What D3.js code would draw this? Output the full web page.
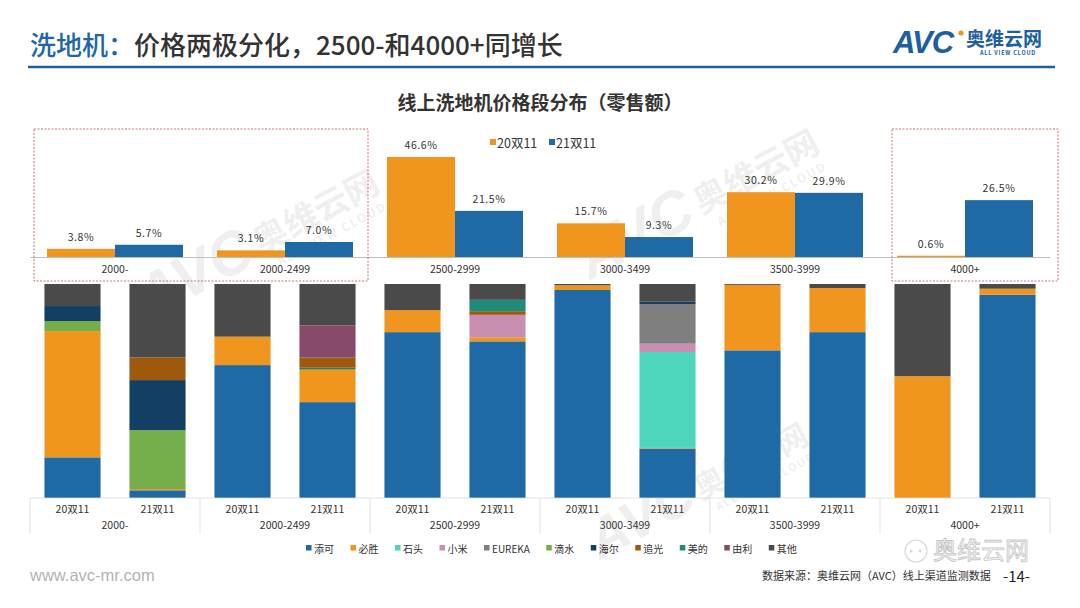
<!DOCTYPE html>
<html><head><meta charset="utf-8">
<script src="https://cdn.jsdelivr.net/npm/d3@7/dist/d3.min.js"></script>
<style>
html,body{margin:0;padding:0;background:#fff;}
svg{display:block;font-family:"Noto Sans CJK SC","Noto Sans",sans-serif;}
</style></head>
<body>
<svg id="c" width="1080" height="608"></svg>
<script>
// ---------- data ----------
const categories = ["2000-", "2000-2499", "2500-2999", "3000-3499", "3500-3999", "4000+"];
const seriesNames = ["20双11", "21双11"];
const share20 = [3.8, 3.1, 46.6, 15.7, 30.2, 0.6];
const share21 = [5.7, 7.0, 21.5, 9.3, 29.9, 26.5];
const brands = ["添可", "必胜", "石头", "小米", "EUREKA", "滴水", "海尔", "追光", "美的", "由利", "其他"];
// brand share per bar: order = category x [20双11, 21双11]
const tianke  = [19.0, 3.6, 62.1, 44.8, 77.5, 73.2, 97.2, 23.1, 69.0, 77.5, 0, 95.0];
const bisheng = [59.0, 0.6, 13.3, 15.0, 10.3, 1.9, 2.2, 0.3, 30.6, 20.6, 56.9, 2.8];
const shitou  = [0, 0, 0, 0, 0, 0, 0, 44.8, 0, 0, 0, 0];
const xiaomi  = [0, 0, 0, 0, 0, 10.5, 0, 3.9, 0, 0, 0, 0];
const eureka  = [0, 0, 0, 0, 0, 0, 0, 18.4, 0, 0, 0, 0];
const dishui  = [4.7, 27.5, 0, 0.6, 0, 0, 0, 0, 0, 0, 0, 0];
const haier   = [7.0, 23.4, 0, 0.5, 0, 0, 0, 1.2, 0, 0, 0, 0];
const zhuiguang = [0, 10.6, 0, 4.7, 0, 1.7, 0, 0, 0, 0, 0, 0];
const midea   = [0, 0, 0, 0, 0, 5.3, 0, 0, 0, 0, 0, 0];
const youli   = [0, 0, 0, 15.0, 0, 0, 0, 0, 0, 0, 0, 0];
const others  = [10.3, 34.3, 24.6, 19.4, 12.2, 7.4, 0.6, 8.3, 0.4, 1.9, 43.1, 2.2];
const brandValues = [tianke, bisheng, shitou, xiaomi, eureka, dishui, haier, zhuiguang, midea, youli, others];

const seriesColors = ["#f0961e", "#1f69a4"];
const brandColors = ["#1f69a4", "#f0961e", "#4dd6bc", "#c98fb0", "#7f7f7f", "#75ad4a", "#123f63", "#9e5a0c", "#1e8c78", "#874a68", "#4a4a4a"];

const svg = d3.select("#c");

// ---------- watermarks ----------
function watermark(x, y, s) {
  const g = svg.append("g").attr("transform", `translate(${x},${y}) rotate(-28) scale(${s})`).attr("opacity", 0.06);
  g.append("text").attr("x", 0).attr("y", 0).attr("font-family", "Liberation Sans").attr("font-weight", "bold")
    .attr("font-style", "italic").attr("font-size", 110).attr("fill", "#000").text("AVC");
  g.append("text").attr("x", 235).attr("y", -10).attr("font-size", 62).attr("font-weight", "bold").attr("fill", "#000").text("奥维云网");
  g.append("text").attr("x", 255).attr("y", 25).attr("font-size", 22).attr("font-weight", "bold").attr("letter-spacing", 3).attr("fill", "#000").text("ALL VIEW CLOUD");
}
watermark(150, 320, 0.55);
watermark(590, 280, 0.55);
watermark(600, 560, 0.5);

// ---------- header ----------
const title = svg.append("text").attr("x", 30).attr("y", 55).attr("font-size", 26).attr("font-weight", 500);
title.append("tspan").attr("fill", "#2166a8").text("洗地机：");
title.append("tspan").attr("fill", "#333").text("价格两极分化，2500-和4000+同增长");
svg.append("line").attr("x1", 28).attr("x2", 1055).attr("y1", 67).attr("y2", 67).attr("stroke", "#1d5fa0").attr("stroke-width", 2.5);

// logo
const logo = svg.append("g");
logo.append("text").attr("x", 893).attr("y", 53).attr("font-family", "Liberation Sans").attr("font-weight", "bold")
  .attr("font-style", "italic").attr("font-size", 31).attr("fill", "#1d5fa0").attr("letter-spacing", -1).text("AVC");
logo.append("circle").attr("cx", 961).attr("cy", 33).attr("r", 2.6).attr("fill", "#f0961e");
logo.append("text").attr("x", 966).attr("y", 46).attr("font-size", 19).attr("font-weight", "bold").attr("fill", "#1d5fa0").text("奥维云网");
logo.append("text").attr("x", 980).attr("y", 55).attr("font-size", 5.5).attr("font-weight", "bold").attr("fill", "#1d5fa0").attr("letter-spacing", 0.8).text("ALL VIEW CLOUD");

// chart title
svg.append("text").attr("x", 540).attr("y", 110).attr("text-anchor", "middle").attr("font-size", 19).attr("font-weight", "bold").attr("fill", "#333").text("线上洗地机价格段分布（零售额）");

// ---------- top grouped bar chart ----------
const x0 = d3.scaleBand().domain(categories).range([30, 1050]).padding(0);
const x1 = d3.scaleBand().domain(seriesNames).range([17, x0.bandwidth() - 17]).padding(0);
const yTop = d3.scaleLinear().domain([0, 46.6]).range([257, 157]);

const topData = categories.map((c, i) => ({ cat: c, vals: [share20[i], share21[i]] }));
const tg = svg.append("g");
const groups = tg.selectAll("g.grp").data(topData).join("g").attr("transform", d => `translate(${x0(d.cat)},0)`);
groups.selectAll("rect").data(d => d.vals.map((v, j) => ({ s: seriesNames[j], v, j }))).join("rect")
  .attr("x", d => x1(d.s)).attr("width", x1.bandwidth())
  .attr("y", d => yTop(d.v)).attr("height", d => yTop(0) - yTop(d.v))
  .attr("fill", d => seriesColors[d.j]);
groups.selectAll("text.val").data(d => d.vals.map((v, j) => ({ s: seriesNames[j], v, j }))).join("text")
  .attr("class", "val").attr("x", d => x1(d.s) + x1.bandwidth() / 2).attr("y", d => yTop(d.v) - 8)
  .attr("text-anchor", "middle").attr("font-size", 10.5).attr("fill", "#333").attr("letter-spacing", 0.6)
  .text(d => d.v.toFixed(1) + "%");

const topAxis = d3.axisBottom(x0).tickSize(0).tickPadding(9);
const ta = svg.append("g").attr("transform", `translate(0,${yTop(0)})`).call(topAxis);
ta.select(".domain").attr("stroke", "#bfbfbf").attr("stroke-width", 1.2);
ta.selectAll("text").attr("font-family", "Noto Sans CJK SC").attr("font-size", 10.5).attr("fill", "#333");

// top legend
const tl = svg.append("g");
[[490, 0], [549, 1]].forEach(([lx, j]) => {
  tl.append("rect").attr("x", lx).attr("y", 139).attr("width", 6).attr("height", 6).attr("fill", seriesColors[j]);
  tl.append("text").attr("x", lx + 7).attr("y", 148).attr("font-size", 12.5).attr("fill", "#333").text(seriesNames[j]);
});

// dashed highlight boxes
svg.append("rect").attr("x", 34).attr("y", 129).attr("width", 334).attr("height", 152)
  .attr("fill", "none").attr("stroke", "#c0504d").attr("stroke-width", 0.8).attr("stroke-dasharray", "2,1.5");
svg.append("rect").attr("x", 892).attr("y", 129).attr("width", 166).attr("height", 152)
  .attr("fill", "none").attr("stroke", "#c0504d").attr("stroke-width", 0.8).attr("stroke-dasharray", "2,1.5");

// ---------- bottom stacked bar chart ----------
const barKeys = [];
categories.forEach(c => seriesNames.forEach(s => barKeys.push(c + "|" + s)));
const rows = barKeys.map((k, i) => {
  const r = { key: k };
  brands.forEach((b, bi) => r[b] = brandValues[bi][i]);
  return r;
});
const xb = d3.scaleBand().domain(barKeys).range([30, 1050]).paddingInner(0.34).paddingOuter(0.17);
const yb = d3.scaleLinear().domain([0, 100]).range([498, 284]);
const stacked = d3.stack().keys(brands)(rows);
const bg = svg.append("g");
bg.selectAll("g").data(stacked).join("g").attr("fill", (d, i) => brandColors[i])
  .selectAll("rect").data(d => d).join("rect")
  .attr("x", d => xb(d.data.key)).attr("width", xb.bandwidth())
  .attr("y", d => yb(d[1])).attr("height", d => Math.max(0, yb(d[0]) - yb(d[1])));

// bottom axis
svg.append("line").attr("x1", 30).attr("x2", 1050).attr("y1", 498).attr("y2", 498).attr("stroke", "#d9d9d9").attr("stroke-width", 0.8);
const sepX = categories.map(c => x0(c)).concat([x0.range()[1]]);
svg.selectAll("line.sep").data(sepX).join("line").attr("class", "sep")
  .attr("x1", d => d).attr("x2", d => d).attr("y1", 498).attr("y2", 534).attr("stroke", "#d9d9d9").attr("stroke-width", 0.8);
const botAxis = d3.axisBottom(xb).tickSize(0).tickPadding(8).tickFormat(k => k.split("|")[1]);
const ba = svg.append("g").attr("transform", "translate(0,498)").call(botAxis);
ba.select(".domain").remove();
ba.selectAll("text").attr("font-family", "Noto Sans CJK SC").attr("font-size", 10.5).attr("fill", "#333");
svg.selectAll("text.bcat").data(categories).join("text").attr("class", "bcat")
  .attr("x", d => x0(d) + x0.bandwidth() / 2).attr("y", 529).attr("text-anchor", "middle")
  .attr("font-size", 10.5).attr("fill", "#333").text(d => d);

// bottom legend
const bl = svg.append("g");
let lx = 306;
brands.forEach((b, i) => {
  bl.append("rect").attr("x", lx).attr("y", 545).attr("width", 5.5).attr("height", 5.5).attr("fill", brandColors[i]);
  const t = bl.append("text").attr("x", lx + 8).attr("y", 552.5).attr("font-size", 10).attr("fill", "#333").text(b);
  lx += 8 + t.node().getComputedTextLength() + 16.5;
});

// ---------- footer ----------
svg.append("text").attr("x", 30).attr("y", 581).attr("font-family", "Liberation Sans").attr("font-size", 16.5).attr("fill", "#b3b3b3").text("www.avc-mr.com");
// wechat overlay watermark
const wm = svg.append("g").attr("opacity", 0.55);
wm.append("circle").attr("cx", 916).attr("cy", 551).attr("r", 11).attr("fill", "none").attr("stroke", "#bbb").attr("stroke-width", 1.2);
wm.append("circle").attr("cx", 911).attr("cy", 551).attr("r", 1.5).attr("fill", "#bbb");
wm.append("circle").attr("cx", 920).attr("cy", 551).attr("r", 1.5).attr("fill", "#bbb");
wm.append("text").attr("x", 933).attr("y", 559).attr("font-size", 24).attr("fill", "#fff").attr("stroke", "#999").attr("stroke-width", 0.9).text("奥维云网");
svg.append("text").attr("x", 762).attr("y", 580).attr("font-size", 11).attr("fill", "#333").text("数据来源：奥维云网（AVC）线上渠道监测数据");
svg.append("text").attr("x", 1003).attr("y", 582).attr("font-size", 15).attr("fill", "#222").text("-14-");
</script>
</body></html>
